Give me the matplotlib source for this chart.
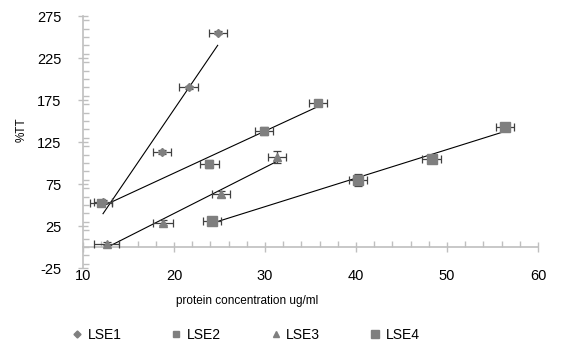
import numpy as np
import matplotlib
matplotlib.use("Agg")
import matplotlib.pyplot as plt
from matplotlib.lines import Line2D
from matplotlib.ticker import MultipleLocator

plt.rcParams['font.family'] = ['Liberation Sans', 'DejaVu Sans']
plt.rcParams['axes.unicode_minus'] = False

# values
series = ["LSE1", "LSE2", "LSE3", "LSE4"]
x_lse1 = [12.2, 18.7, 21.6, 24.8]
y_lse1 = [54, 113, 190, 255]
x_lse2 = [12.0, 23.9, 29.9, 35.8]
y_lse2 = [52, 99, 138, 171]
x_lse3 = [12.6, 18.8, 25.2, 31.3]
y_lse3 = [4, 29, 63, 107]
x_lse4 = [24.2, 40.2, 48.3, 56.4]
y_lse4 = [31, 80, 105, 143]

xerr_lse1 = [1.0, 1.0, 1.0, 1.0]
xerr_lse2 = [1.2, 1.0, 1.0, 1.0]
xerr_lse3 = [1.4, 1.1, 1.0, 1.0]
xerr_lse4 = [1.0, 1.0, 1.0, 1.0]
yerr_lse1 = [2, 2, 2, 2]
yerr_lse2 = [3, 5, 5, 3]
yerr_lse3 = [2, 3, 4, 7]
yerr_lse4 = [5, 7, 3, 3]

xs = [x_lse1, x_lse2, x_lse3, x_lse4]
ys = [y_lse1, y_lse2, y_lse3, y_lse4]
xerrs = [xerr_lse1, xerr_lse2, xerr_lse3, xerr_lse4]
yerrs = [yerr_lse1, yerr_lse2, yerr_lse3, yerr_lse4]
markers = ["D", "s", "^", "s"]
sizes = [4.2, 5.2, 5.5, 7]
gray = "#7f7f7f"
axis_gray = "#bfbfbf"

fig = plt.figure(figsize=(5.62, 3.63), dpi=100)
ax = fig.add_axes([0.1477, 0.2617, 0.8096, 0.6942])

for x, y, xe, ye, m, s in zip(xs, ys, xerrs, yerrs, markers, sizes):
    ax.errorbar(x, y, xerr=xe, yerr=ye, fmt=m, ms=s, color=gray, mec=gray,
                ecolor="#404040", elinewidth=0.9, capsize=3, capthick=0.9, zorder=3)
    k, b = np.polyfit(x, y, 1)
    xx = np.array([min(x), max(x)])
    ax.plot(xx, k * xx + b, color="black", lw=0.8, zorder=2)

ax.set_xlim(10, 60)
ax.set_ylim(-25, 275)
ax.xaxis.set_major_locator(MultipleLocator(10))
ax.xaxis.set_minor_locator(MultipleLocator(2))
ax.set_yticks(np.arange(-25, 276, 50))
ax.yaxis.set_minor_locator(MultipleLocator(10))

for side in ["top", "right"]:
    ax.spines[side].set_visible(False)
ax.spines["bottom"].set_position(("data", 0))
ax.spines["bottom"].set_color(axis_gray)
ax.spines["left"].set_color(axis_gray)
ax.spines["bottom"].set_linewidth(1.2)
ax.spines["left"].set_linewidth(1.2)

ax.tick_params(axis="both", which="major", direction="inout", length=7,
               color=axis_gray, width=1, labelsize=10.5, labelcolor="black")
ax.tick_params(axis="both", which="minor", direction="in", length=4,
               color=axis_gray, width=1)
ax.tick_params(axis="x", which="major", pad=12)
ax.tick_params(axis="y", which="major", pad=12)

fig.text(247 / 562, 1 - 301 / 363, "protein concentration ug/ml", ha="center",
         va="center", fontsize=8.5)
fig.text(22 / 562, 1 - 130 / 363, "%TT", rotation=90, ha="center", va="center",
         fontsize=8.5)

handles = [Line2D([], [], ls="none", marker=m, ms=s * 0.85, color=gray)
           for m, s in zip(markers, sizes)]
fig.legend(handles, series, loc="center", bbox_to_anchor=(246 / 562, 1 - 335 / 363),
           ncol=4, frameon=False, fontsize=10, handlelength=0.7,
           handletextpad=0.4, columnspacing=3.6)

fig.savefig("out.png", dpi=100)
